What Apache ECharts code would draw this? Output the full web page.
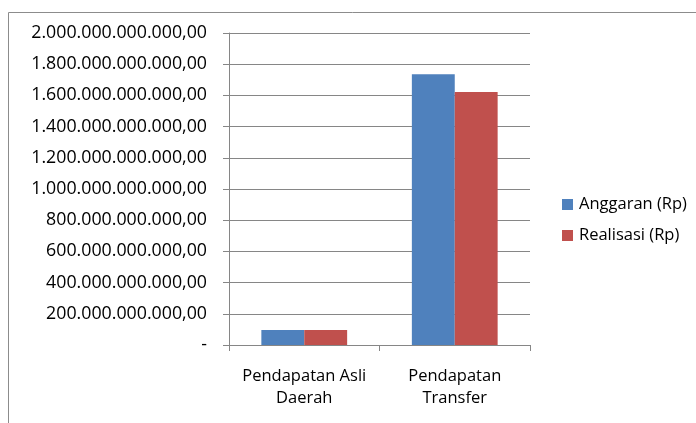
<!DOCTYPE html>
<html>
<head>
<meta charset="utf-8">
<script src="https://cdn.jsdelivr.net/npm/echarts@6/dist/echarts.min.js"></script>
<style>
  html, body { margin: 0; padding: 0; background: #fff; }
  #chart { width: 696px; height: 423px; }
</style>
</head>
<body>
<div id="chart"></div>
<script>
const categories = ['Pendapatan Asli\nDaerah', 'Pendapatan\nTransfer']
const seriesNames = ['Anggaran (Rp)', 'Realisasi (Rp)']
const anggaran = [96000000000, 1735000000000]
const realisasi = [96000000000, 1622000000000]

const fontFamily = '"Open Sans", "Liberation Sans", sans-serif'

const formatRp = v => {
  if (v === 0) return '-'
  const s = String(Math.round(v)).replace(/\B(?=(\d{3})+(?!\d))/g, '.')
  return s + ',00'
}

const chart = echarts.init(document.getElementById('chart'))

chart.setOption({
  animation: false,
  textStyle: { fontFamily },
  graphic: [
    {
      type: 'rect',
      shape: { x: 8.5, y: 12.5, width: 720, height: 440 },
      style: { fill: 'none', stroke: '#8c8c8c', lineWidth: 1 },
      silent: true
    }
  ],
  legend: {
    orient: 'vertical',
    left: 557,
    top: 191,
    itemWidth: 11,
    itemHeight: 11,
    itemGap: 14,
    icon: 'rect',
    textStyle: { fontFamily, fontSize: 16.5, color: '#000', padding: [0, 0, 0, 1] },
    data: seriesNames
  },
  grid: {
    left: 229,
    right: 166,
    top: 33,
    bottom: 78
  },
  xAxis: {
    type: 'category',
    data: categories,
    axisLine: { lineStyle: { color: '#868686', width: 1 } },
    axisTick: { show: true, length: 6, lineStyle: { color: '#868686' } },
    axisLabel: {
      interval: 0,
      hideOverlap: false,
      color: '#000',
      fontFamily,
      fontSize: 16.5,
      lineHeight: 22,
      margin: 20
    }
  },
  yAxis: {
    type: 'value',
    min: 0,
    max: 2000000000000,
    interval: 200000000000,
    axisLine: { show: true, lineStyle: { color: '#868686', width: 1 } },
    axisTick: { show: true, length: 6, lineStyle: { color: '#868686' } },
    splitLine: { lineStyle: { color: '#868686', width: 1 } },
    axisLabel: {
      color: '#000',
      fontFamily,
      fontSize: 17.8,
      margin: 22,
      formatter: formatRp
    }
  },
  series: [
    {
      name: seriesNames[0],
      type: 'bar',
      data: anggaran,
      barGap: '0%',
      barCategoryGap: '43%',
      itemStyle: { color: '#4f81bd' }
    },
    {
      name: seriesNames[1],
      type: 'bar',
      data: realisasi,
      itemStyle: { color: '#c0504d' }
    }
  ]
})
</script>
</body>
</html>
